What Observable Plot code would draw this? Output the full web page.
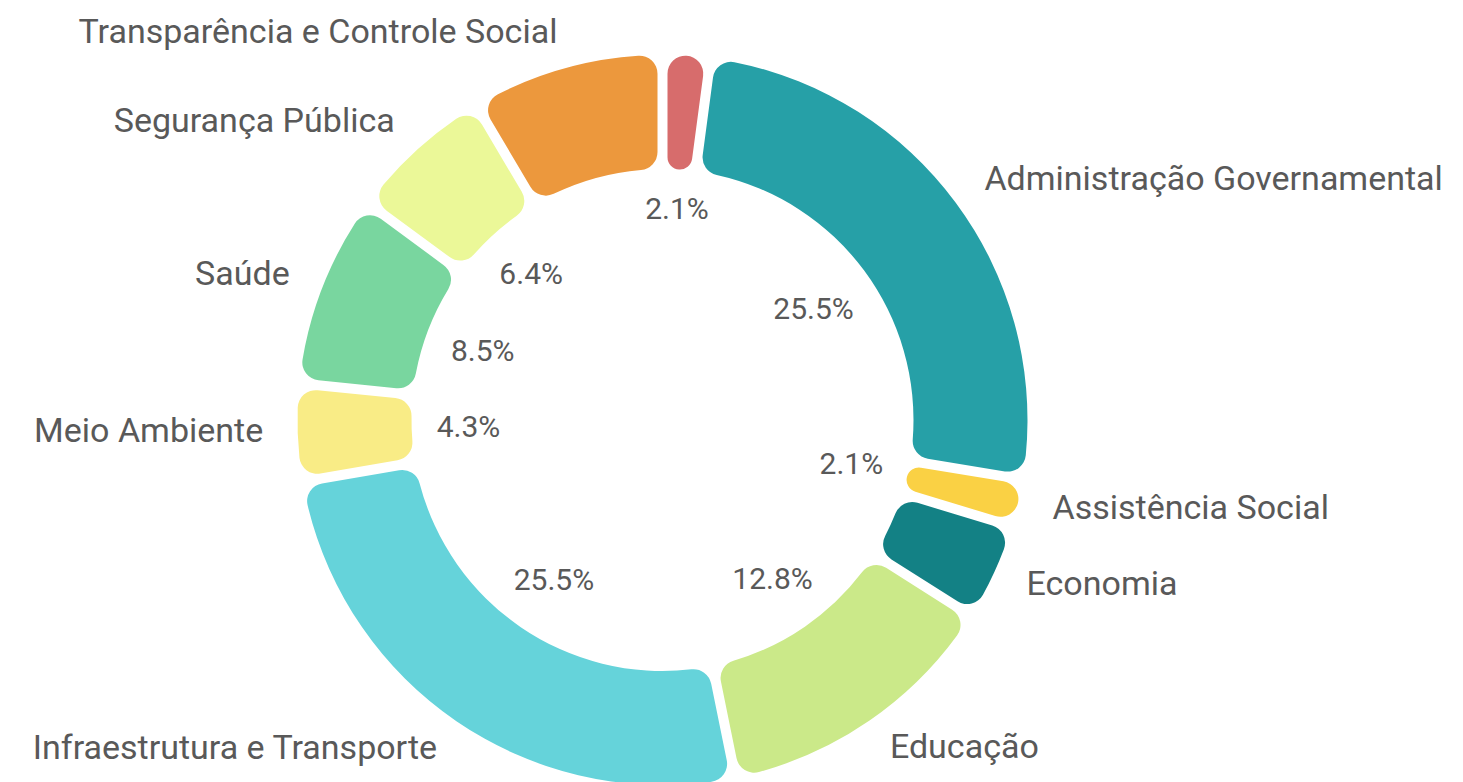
<!DOCTYPE html>
<html>
<head>
<meta charset="utf-8">
<script src="https://cdn.jsdelivr.net/npm/d3@7"></script>
<script src="https://cdn.jsdelivr.net/npm/@observablehq/plot@0.6"></script>
<style>
  html, body { margin: 0; padding: 0; background: #ffffff; }
  #chart svg { display: block; }
</style>
</head>
<body>
<div id="chart"></div>
<script>
// ---- data ----
const categories = [
  "Outros",
  "Administração Governamental",
  "Assistência Social",
  "Economia",
  "Educação",
  "Infraestrutura e Transporte",
  "Meio Ambiente",
  "Saúde",
  "Segurança Pública",
  "Transparência e Controle Social"
];
const values = [2.1, 25.5, 2.1, 4.3, 12.8, 25.5, 4.3, 8.5, 6.4, 8.5];
const colors = [
  "#d76c6c", "#26a0a7", "#fad144", "#138185", "#cbe989",
  "#65d3da", "#f9ec86", "#79d69f", "#ebf898", "#ec983d"
];
const showCategoryLabel = [false, true, true, true, true, true, true, true, true, true];
const showValueLabel    = [true, true, true, false, true, true, true, true, true, false];

// ---- layout ----
const W = 1463, H = 782;
const CX = 662.5, CY = 420, R_OUT = 365;
const INNER = 251 / 365;
const CORNER = 18, GAP = 10;
const R_VALUE = 227, R_CAT = 400;
const VALUE_FONT = 30, CAT_FONT = 34;
const FONT = "Roboto";
const TEXT_COLOR = "#595959";

const data = categories.map((category, i) => ({category, value: values[i]}));
const pie = d3.pie().value(d => d.value).sort(null)(data);

const ctx = document.createElement("canvas").getContext("2d");
function textWidth(s, size) { ctx.font = `${size}px ${FONT}`; return ctx.measureText(s).width; }

// inner labels: centre on the slice's mid ray, outer corner touching radius R
function placeInner(angle, w, h, R) {
  const ux = Math.sin(angle), uy = -Math.cos(angle);
  const c = [Math.sign(ux || 1) * w / 2, Math.sign(uy || 1) * h / 2];
  const uc = ux * c[0] + uy * c[1];
  const t = -uc + Math.sqrt(uc * uc - (c[0] * c[0] + c[1] * c[1]) + R * R);
  return {x: t * ux / R_OUT, y: -t * uy / R_OUT};
}
// outer labels: anchored (start/end) at the mid ray, vertically centred on it
function placeOuter(angle, R) {
  const ux = Math.sin(angle), uy = -Math.cos(angle);
  const py = R * uy - 3;
  return {x: R * ux / R_OUT, y: -py / R_OUT, right: ux >= 0};
}

const fmt = d => d3.format(".1f")(d) + "%";
const valueLabels = pie.filter((p, i) => showValueLabel[i]).map(p => {
  const a = (p.startAngle + p.endAngle) / 2, text = fmt(p.data.value);
  return {...placeInner(a, textWidth(text, VALUE_FONT), 23, R_VALUE), text};
});
const catLabels = pie.filter((p, i) => showCategoryLabel[i]).map(p => {
  const a = (p.startAngle + p.endAngle) / 2;
  return {...placeOuter(a, R_CAT), text: p.data.category};
});

function renderArcs(index, scales, vals) {
  const cx = scales.x(0), cy = scales.y(0);
  const ro = scales.x(1) - scales.x(0);
  const ri = ro * INNER;
  const arc = d3.arc()
    .innerRadius(ri).outerRadius(ro)
    .cornerRadius(CORNER)
    .padAngle(GAP / Math.sqrt(ri * ri + ro * ro));
  const g = d3.create("svg:g").attr("transform", `translate(${cx},${cy})`);
  for (const i of index) {
    g.append("path").attr("d", arc(pie[i])).attr("fill", vals.fill ? vals.fill[i] : scales.color(pie[i].data.category));
  }
  return g.node();
}

const catStyle = {x: "x", y: "y", text: "text", fontSize: CAT_FONT, fontFamily: FONT, fill: TEXT_COLOR};

const chart = Plot.plot({
  width: W, height: H, margin: 0,
  x: {domain: [-CX / R_OUT, (W - CX) / R_OUT], axis: null},
  y: {domain: [(CY - H) / R_OUT, CY / R_OUT], axis: null},
  color: {domain: categories, range: colors},
  style: {background: "#ffffff", overflow: "visible"},
  marks: [
    Plot.dot(pie, {x: () => 0, y: () => 0, fill: d => d.data.category, render: renderArcs}),
    Plot.text(valueLabels, {x: "x", y: "y", text: "text", fontSize: VALUE_FONT, fontFamily: FONT, fill: TEXT_COLOR, textAnchor: "middle"}),
    Plot.text(catLabels.filter(d => d.right), {...catStyle, textAnchor: "start"}),
    Plot.text(catLabels.filter(d => !d.right), {...catStyle, textAnchor: "end"})
  ]
});
document.getElementById("chart").append(chart);
</script>
</body>
</html>
